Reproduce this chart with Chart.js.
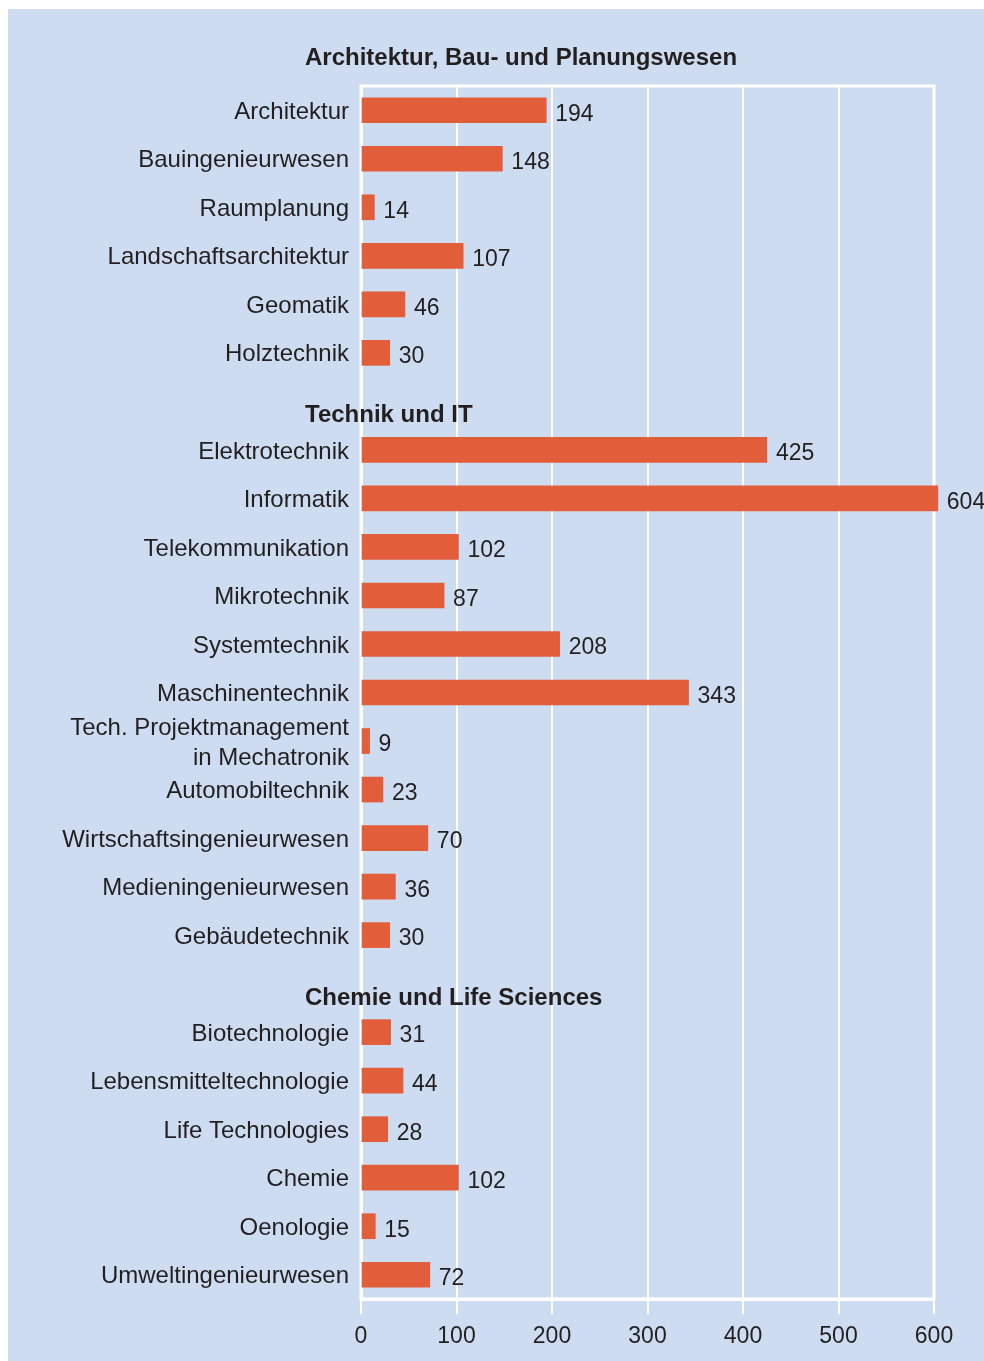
<!DOCTYPE html>
<html>
<head>
<meta charset="utf-8">
<script src="https://cdn.jsdelivr.net/npm/chart.js@4/dist/chart.umd.min.js"></script>
<style>
  html, body { margin: 0; padding: 0; background: #ffffff; }
  #panel { position: absolute; left: 8px; top: 9px; width: 976px; height: 1352px; background: #cddcf0; }
  canvas { display: block; }
</style>
</head>
<body>
<div id="panel"><canvas id="c" width="976" height="1352"></canvas></div>
<script>
const groupTitles = ['Architektur, Bau- und Planungswesen', 'Technik und IT', 'Chemie und Life Sciences'];

const archLabels = ['Architektur', 'Bauingenieurwesen', 'Raumplanung', 'Landschaftsarchitektur', 'Geomatik', 'Holztechnik'];
const archValues = [194, 148, 14, 107, 46, 30];

const techLabels = ['Elektrotechnik', 'Informatik', 'Telekommunikation', 'Mikrotechnik', 'Systemtechnik',
  'Maschinentechnik', ['Tech. Projektmanagement', 'in Mechatronik'], 'Automobiltechnik',
  'Wirtschaftsingenieurwesen', 'Medieningenieurwesen', 'Gebäudetechnik'];
const techValues = [425, 604, 102, 87, 208, 343, 9, 23, 70, 36, 30];

const chemLabels = ['Biotechnologie', 'Lebensmitteltechnologie', 'Life Technologies', 'Chemie', 'Oenologie', 'Umweltingenieurwesen'];
const chemValues = [31, 44, 28, 102, 15, 72];

const xTicks = [0, 100, 200, 300, 400, 500, 600];

// Build combined category list with header slots (empty categories)
const labels = [...archLabels, '', ...techLabels, '', ...chemLabels];
const values = [...archValues, null, ...techValues, null, ...chemValues];
const headerIndex = [archLabels.length, archLabels.length + 1 + techLabels.length];

const TEXT = '#231f20';
const FONT = "'Liberation Sans', Arial, Helvetica, sans-serif";

const overlay = {
  id: 'overlay',
  beforeDatasetsDraw(chart) {
    const ctx = chart.ctx, a = chart.chartArea;
    ctx.save();
    ctx.strokeStyle = '#ffffff';
    ctx.lineWidth = 3;
    ctx.strokeRect(a.left, a.top, a.right - a.left, a.bottom - a.top);
    ctx.restore();
  },
  afterDatasetsDraw(chart) {
    const ctx = chart.ctx;
    const y = chart.scales.y;
    const meta = chart.getDatasetMeta(0);
    ctx.save();
    ctx.fillStyle = TEXT;
    ctx.font = '23px ' + FONT;
    ctx.textAlign = 'left';
    ctx.textBaseline = 'middle';
    meta.data.forEach((bar, i) => {
      const v = values[i];
      if (v === null) return;
      ctx.fillText(String(v), bar.x + 9, bar.y + 4);
    });
    ctx.font = 'bold 24px ' + FONT;
    const x0 = 297;
    ctx.fillText(groupTitles[0], x0, y.getPixelForValue(0) - 52);
    ctx.fillText(groupTitles[1], x0, y.getPixelForValue(headerIndex[0]) + 14);
    ctx.fillText(groupTitles[2], x0, y.getPixelForValue(headerIndex[1]) + 15);
    ctx.restore();
  }
};

new Chart(document.getElementById('c'), {
  type: 'bar',
  data: {
    labels: labels,
    datasets: [{
      data: values,
      backgroundColor: '#e25d3a',
      borderWidth: 0,
      barThickness: 25,
      clip: false
    }]
  },
  options: {
    indexAxis: 'y',
    responsive: false,
    animation: false,
    layout: { padding: { top: 77, right: 50, bottom: 0, left: 0 } },
    plugins: { legend: { display: false }, tooltip: { enabled: false } },
    scales: {
      x: {
        type: 'linear',
        min: 0, max: 600,
        afterBuildTicks(scale) { scale.ticks = xTicks.map(v => ({ value: v })); },
        afterFit(scale) { scale.height = 62; },
        grid: { color: '#ffffff', lineWidth: 2, drawTicks: true, tickLength: 15, tickColor: '#ffffff', tickWidth: 2 },
        border: { display: true, color: '#ffffff', width: 3 },
        ticks: { color: TEXT, font: { size: 23, family: FONT }, padding: 9, maxRotation: 0 }
      },
      y: {
        type: 'category',
        afterFit(scale) { scale.width = 353; },
        grid: { display: false, drawTicks: false },
        border: { display: true, color: '#ffffff', width: 3 },
        ticks: { color: TEXT, font: { size: 24, family: FONT, lineHeight: 1.25 }, padding: 12, autoSkip: false, labelOffset: 2 }
      }
    }
  },
  plugins: [overlay]
});
</script>
</body>
</html>
